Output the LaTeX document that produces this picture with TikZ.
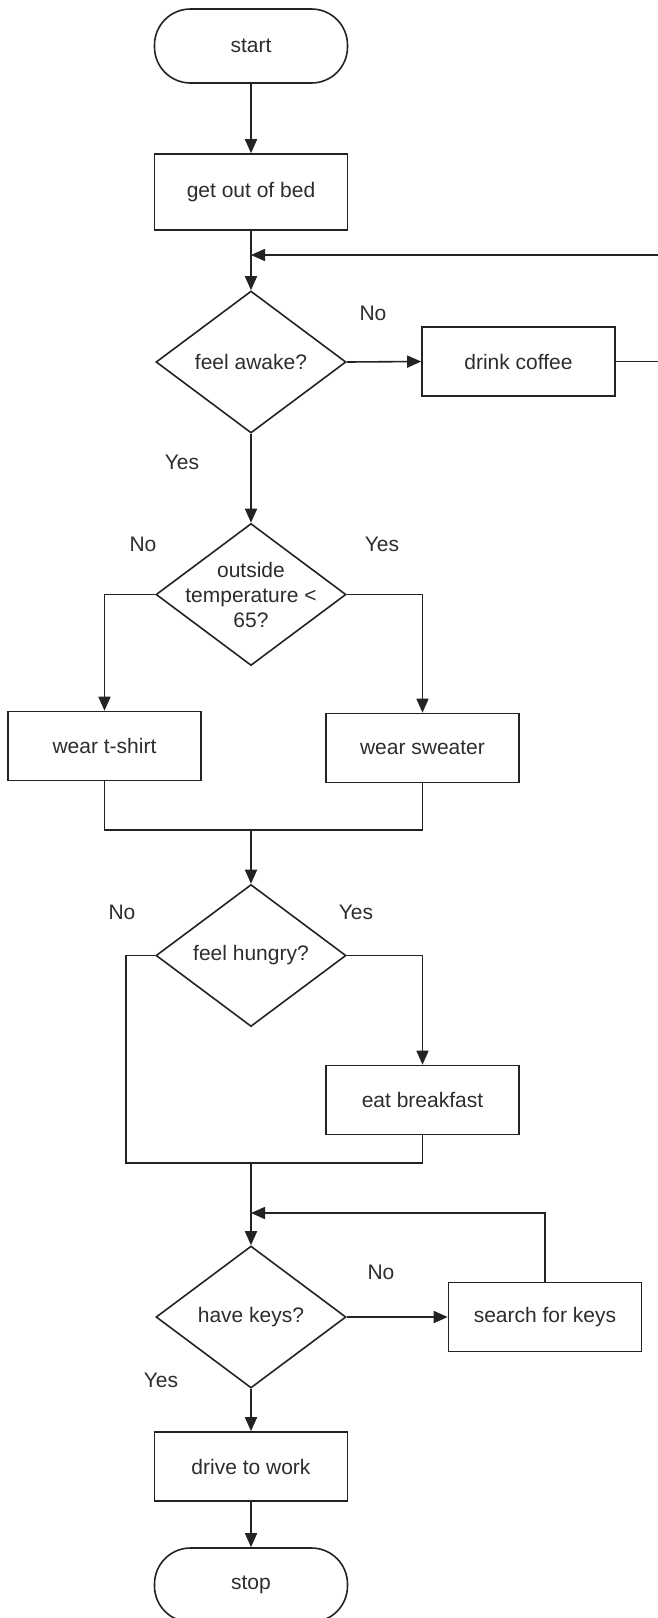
\documentclass[tikz,border=0pt]{standalone}
\usepackage{fontspec}
\setmainfont{Liberation Sans}
\usetikzlibrary{shapes.geometric,arrows.meta}
\definecolor{ink}{RGB}{35,35,35}
\definecolor{txt}{RGB}{45,45,45}
\begin{document}
\begin{tikzpicture}[x=1pt,y=-1pt,
  line width=1.6pt, draw=ink,
  every node/.style={font=\fontsize{21}{25}\selectfont, text=txt},
  terminal/.style={draw=ink, rectangle, rounded corners=36pt, minimum width=193pt, minimum height=74pt, inner sep=0pt},
  proc/.style={draw=ink, rectangle, minimum width=193pt, minimum height=69pt, inner sep=0pt},
  decision/.style={draw=ink, diamond, minimum width=190pt, minimum height=142pt, inner sep=0pt},
  answer/.style={inner sep=0pt},
  arr/.style={-{Triangle[length=14pt,width=12pt]}}]

\fill[white] (0,0) rectangle (658,1618);
\useasboundingbox (0,0) rectangle (658,1618);

% steps
\node[terminal] (start) at (251,46) {start};
\node[proc, minimum height=76pt] (bed) at (251,192) {get out of bed};
\node[decision] (d1) at (251,362) {};
\node (d1t) at (d1) {feel awake?};
\node[proc] (coffee) at (518.5,361.5) {drink coffee};
\node[decision] (d2) at (251,594.5) {};
\node[align=center] (d2t) at (d2) {outside\\temperature <\\65?};
\node[proc] (tshirt) at (104.5,746) {wear t-shirt};
\node[proc] (sweater) at (422.5,748) {wear sweater};
\node[decision] (d3) at (251,955.5) {};
\node (d3t) at (d3) {feel hungry?};
\node[proc] (breakfast) at (422.5,1100) {eat breakfast};
\node[decision] (d4) at (251,1317) {};
\node (d4t) at (d4) {have keys?};
\node[proc] (search) at (545,1317) {search for keys};
\node[proc] (drive) at (251,1466.5) {drive to work};
\node[terminal] (stop) at (251,1585) {stop};

% branch answers
\node[answer] (n1) at (373,313) {No};
\node[answer] (y1) at (182,462) {Yes};
\node[answer] (n2) at (143,544) {No};
\node[answer] (y2) at (382,544) {Yes};
\node[answer] (n3) at (122,912) {No};
\node[answer] (y3) at (356,912) {Yes};
\node[answer] (n4) at (381,1272) {No};
\node[answer] (y4) at (161,1380) {Yes};

% junction points
\coordinate (j1) at (251,255);
\coordinate (loopR) at (663,255);
\coordinate (m1) at (251,830);
\coordinate (lft) at (126,1163);
\coordinate (m2) at (251,1163);
\coordinate (j2) at (251,1213);

% connectors
\draw[arr] (start) -- (bed);
\draw[arr] (bed) -- (d1);
\draw[arr] (d1.east) -- (coffee.west);
\draw[arr] (coffee.east) -- (loopR |- coffee.east) -- (loopR) -- (j1);
\draw[arr] (d1.south) -- (d2.north);
\draw[arr] (d2.west) -| (tshirt.north);
\draw[arr] (d2.east) -| (sweater.north);
\draw (tshirt.south) |- (m1) -| (sweater.south);
\draw[arr] (m1) -- (d3.north);
\draw (d3.west) -| (lft) -- (m2) -| (breakfast.south);
\draw[arr] (d3.east) -| (breakfast.north);
\draw[arr] (m2) -- (d4.north);
\draw[arr] (search.north) |- (j2);
\draw[arr] (d4.east) -- (search.west);
\draw[arr] (d4.south) -- (drive.north);
\draw[arr] (drive) -- (stop);
\end{tikzpicture}
\end{document}
